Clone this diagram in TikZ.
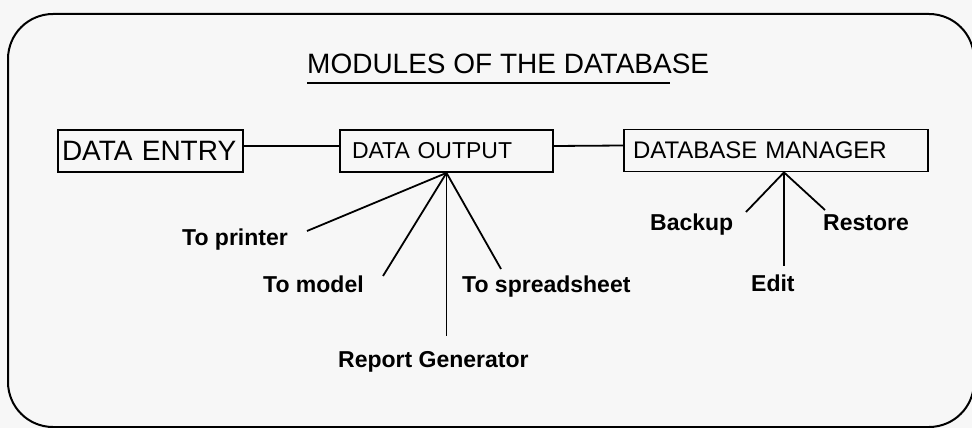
\documentclass[tikz,border=0pt]{standalone}
\usepackage{fontspec}
\setmainfont{Liberation Sans}
\begin{document}
\begin{tikzpicture}[x=1pt,y=-1pt,
    modbox/.style={draw, line width=1.8pt, align=left, minimum height=42pt, inner ysep=0pt},
    leaf/.style={anchor=base west, inner sep=0pt, font=\fontsize{23}{26}\bfseries},
    link/.style={line width=1.8pt}]
    \useasboundingbox (0,0) rectangle (972,428);
    \fill[gray!6] (0,0) rectangle (972,428);
    \draw[line width=2pt, rounded corners=45pt] (8,14) rectangle (974,427);

    \node[anchor=base west, inner sep=0pt, font=\fontsize{28}{32}\selectfont] (title) at (307,74) {MODULES OF THE DATABASE};
    \draw[line width=1.6pt] ([yshift=-9pt]title.base west) -- ([xshift=-39pt,yshift=-9pt]title.base east);

    \node[modbox, inner xsep=4pt, text width=177pt, font=\fontsize{28}{32}\selectfont] (entry) at (150.5,151) {DATA ENTRY};
    \node[modbox, inner xsep=12pt, text width=189pt, font=\fontsize{23}{26}\selectfont] (output) at (446.5,151) {DATA OUTPUT};
    \node[modbox, inner xsep=9pt, text width=286pt, font=\fontsize{24}{27}\selectfont] (manager) at (776,150.5) {DATABASE MANAGER};

    \draw[link] ([yshift=5pt]entry.east) -- ([yshift=5pt]output.west);
    \draw[link] ([yshift=5pt]output.east) -- ([yshift=5pt]manager.west);

    % what comes out of the output module
    \node[leaf] (printer) at (182,245) {To printer};
    \node[leaf] (model) at (263,292) {To model};
    \node[leaf] (report) at (338,367) {Report Generator};
    \node[leaf] (sheet) at (462,292) {To spreadsheet};
    \coordinate (printertip) at (307,231);
    \coordinate (modeltip) at (383,276);
    \coordinate (reporttip) at (446.5,336);
    \coordinate (sheettip) at (501,269);
    \foreach \t in {printertip,modeltip,reporttip,sheettip}
        \draw[link] (output.south) -- (\t);

    % what the manager does
    \node[leaf] (backup) at (650,230) {Backup};
    \node[leaf] (restore) at (823,230) {Restore};
    \node[leaf] (edit) at (751,291) {Edit};
    \coordinate (mfoot) at ([xshift=8pt]manager.south);
    \coordinate (backuptip) at (746,212);
    \coordinate (restoretip) at (825,210);
    \coordinate (edittip) at (784,266);
    \foreach \t in {backuptip,restoretip,edittip}
        \draw[link] (mfoot) -- (\t);
\end{tikzpicture}
\end{document}
